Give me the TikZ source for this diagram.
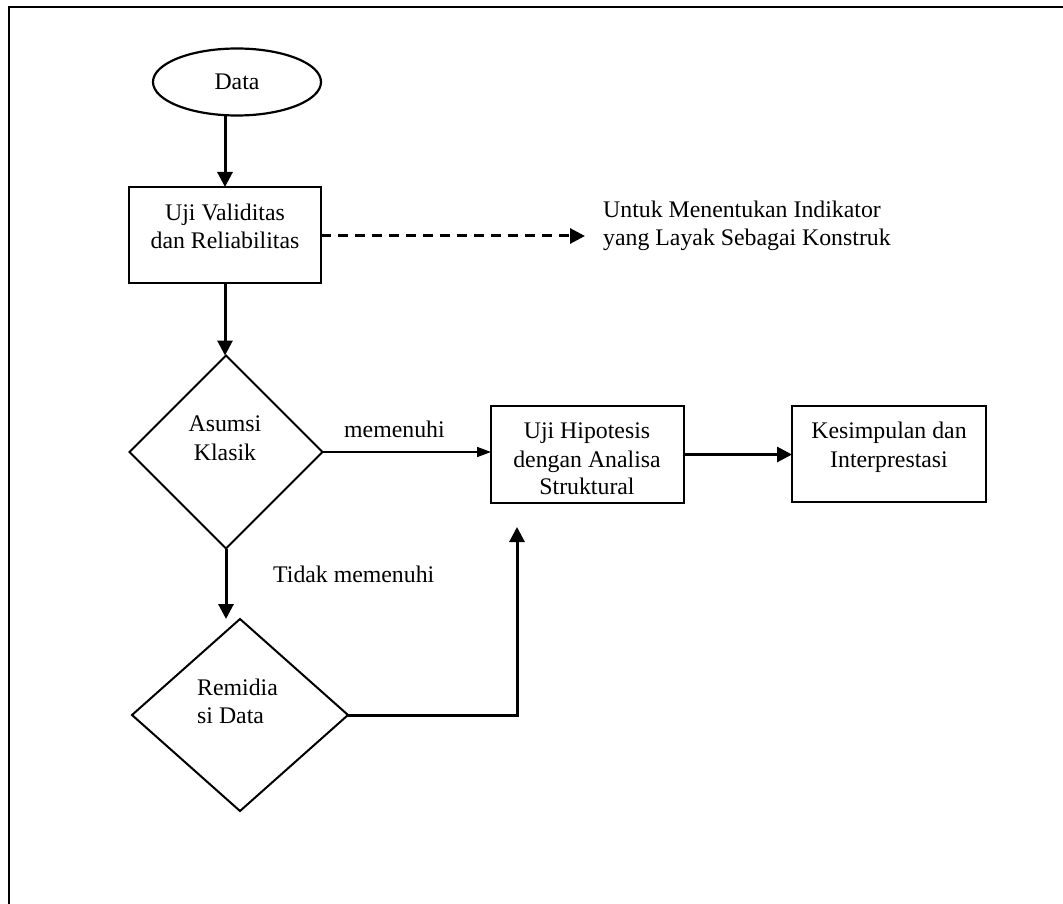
\documentclass[tikz,border=0pt]{standalone}
\usepackage{fontspec}
\setmainfont{Liberation Serif}
\usetikzlibrary{shapes.geometric,arrows.meta}
\begin{document}
\begin{tikzpicture}[x=1pt,y=-1pt,
  txt/.style={inner sep=0pt, anchor=base, font=\fontsize{23.8}{28}\selectfont},
  txtl/.style={txt, anchor=base west},
  boxnode/.style={draw, line width=2.4pt, rectangle, inner sep=0pt, outer sep=0pt},
  dianode/.style={draw, line width=2pt, diamond, inner sep=0pt, outer sep=0pt},
  ellnode/.style={draw, line width=2.2pt, ellipse, inner sep=0pt, outer sep=0pt},
  arr/.style={line width=3pt, -{Triangle[length=15pt,width=15pt]}},
  thinarr/.style={line width=1.7pt, -{Triangle[length=14pt,width=10pt]}},
  dasharr/.style={line width=3pt, dash pattern=on 10pt off 7pt, -{Triangle[length=15pt,width=15pt]}},
  frameline/.style={line width=2.6pt}
]
\useasboundingbox (0,0) rectangle (1063,904);
% frame
\coordinate (fbl) at (9,904);
\coordinate (ftl) at (9,7);
\coordinate (ftr) at (1063,7);
\draw[frameline] (fbl) -- (ftl) -- (ftr);

% shapes
\node[ellnode, minimum width=168pt, minimum height=67pt] (data) at (237,82) {};
\node[boxnode, minimum width=192pt, minimum height=96pt] (val) at (225,235) {};
\node[dianode, minimum width=193pt, minimum height=193pt] (as) at (226,452) {};
\node[boxnode, minimum width=193pt, minimum height=97pt] (hip) at (587.5,454.5) {};
\node[boxnode, minimum width=194pt, minimum height=96pt] (kes) at (889,454) {};
\node[dianode, minimum width=216pt, minimum height=192pt] (rem) at (240,715) {};
\coordinate (dashend) at (585,236);
\coordinate (remup) at (517,527);

% texts
\node[txt] (tdata) at (237,90) {Data};
\node[txt] (tval1) at (225,221) {Uji Validitas};
\node[txt] (tval2) at (225,249) {dan Reliabilitas};
\node[txtl] (tund1) at (603,218) {Untuk Menentukan Indikator};
\node[txtl] (tund2) at (603,246) {yang Layak Sebagai Konstruk};
\node[txt] (tas1) at (225,431) {Asumsi};
\node[txt] (tas2) at (225,460) {Klasik};
\node[txtl] (tmem) at (344,437) {memenuhi};
\node[txt] (thip1) at (587,438) {Uji Hipotesis};
\node[txt] (thip2) at (587,467) {dengan Analisa};
\node[txt] (thip3) at (587,494) {Struktural};
\node[txt] (tkes1) at (889,438) {Kesimpulan dan};
\node[txt] (tkes2) at (889,467) {Interprestasi};
\node[txtl] (ttdk) at (273,582) {Tidak memenuhi};
\node[txtl] (trem1) at (197,695) {Remidia};
\node[txtl] (trem2) at (197,723) {si Data};

% connectors
\draw[arr] (val.north |- data.south) -- (val.north);
\draw[dasharr] (val.east |- dashend) -- (dashend);
\draw[arr] (val.south) -- (val.south |- as.north);
\draw[thinarr] (as.east) -- (as.east -| hip.west);
\draw[arr] (hip.east) -- (hip.east -| kes.west);
\draw[arr] (as.south) -- (as.south |- rem.north);
\draw[arr] (rem.east) -| (remup);
\end{tikzpicture}
\end{document}
